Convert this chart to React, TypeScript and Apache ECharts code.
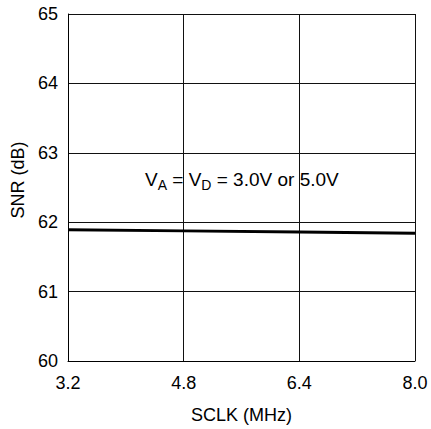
import React, { useEffect, useRef } from "react";
import * as echarts from "echarts";

const xValues = [3.2, 4.8, 6.4, 8.0];
const snrValues = [61.89, 61.875, 61.86, 61.84];
const xTicks = [3.2, 4.8, 6.4, 8.0];
const yTicks = [60, 61, 62, 63, 64, 65];

const FONT = "Liberation Sans, Arial, Helvetica, sans-serif";

export default function App() {
  const ref = useRef<HTMLDivElement>(null);
  useEffect(() => {
    if (!ref.current) return;
    const chart = echarts.init(ref.current, null, { renderer: "svg" });
    chart.setOption({
      animation: false,
      backgroundColor: "#fff",
      grid: { left: 68, right: 16, top: 14, bottom: 65, containLabel: false },
      xAxis: {
        type: "value",
        min: xTicks[0],
        max: xTicks[xTicks.length - 1],
        interval: 1.6,
        name: "SCLK (MHz)",
        nameLocation: "middle",
        nameGap: 45,
        nameTextStyle: { fontFamily: FONT, fontSize: 18, color: "#000" },
        axisLine: { show: true, lineStyle: { color: "#000", width: 1 } },
        axisTick: { show: false },
        axisLabel: {
          fontFamily: FONT,
          fontSize: 18,
          color: "#000",
          margin: 13,
          formatter: (v: number) => v.toFixed(1),
        },
        splitLine: { show: true, lineStyle: { color: "#111", width: 1 } },
      },
      yAxis: {
        type: "value",
        min: yTicks[0],
        max: yTicks[yTicks.length - 1],
        interval: 1,
        axisLine: { show: true, lineStyle: { color: "#000", width: 1 } },
        axisTick: { show: false },
        axisLabel: {
          fontFamily: FONT,
          fontSize: 18,
          color: "#000",
          margin: 10,
        },
        splitLine: { show: true, lineStyle: { color: "#111", width: 1 } },
      },
      graphic: [
        {
          type: "text",
          x: 18,
          y: 180,
          rotation: Math.PI / 2,
          style: {
            text: "SNR (dB)",
            fontFamily: FONT,
            fontSize: 18,
            fill: "#000",
            align: "center",
            verticalAlign: "middle",
          },
        },
        {
          type: "text",
          x: 145,
          y: 179,
          style: {
            text: "{n|V}{s|A}{n| = V}{s|D}{n| = 3.0V or 5.0V}",
            fontFamily: FONT,
            fill: "#000",
            verticalAlign: "middle",
            rich: {
              n: { fontFamily: FONT, fontSize: 19, lineHeight: 22, fill: "#000" },
              s: {
                fontFamily: FONT,
                fontSize: 14,
                fill: "#000",
                padding: [12, 0, 0, 0],
                lineHeight: 14,
              },
            },
          },
        },
      ],
      series: [
        {
          type: "line",
          data: xValues.map((x, i) => [x, snrValues[i]]),
          symbol: "none",
          lineStyle: { color: "#000", width: 3 },
        },
      ],
    });
    return () => chart.dispose();
  }, []);
  return (
    <div
      ref={ref}
      style={{ position: "absolute", left: 0, top: 0, width: 431, height: 429 }}
    />
  );
}
